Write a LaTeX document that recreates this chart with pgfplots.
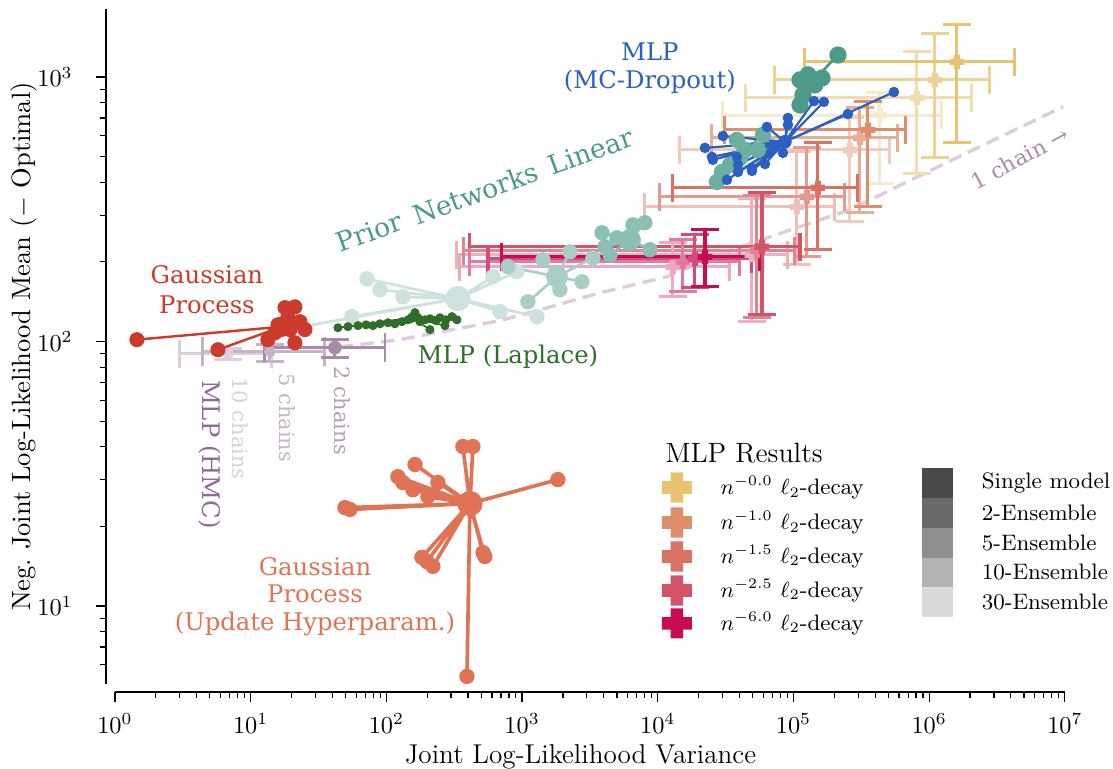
\documentclass[border=0pt]{standalone}
\usepackage{fontspec}
\usepackage{pgfplots}
\pgfplotsset{compat=1.18}
\newfontfamily\dvs{DejaVu Serif}

\definecolor{cgold}{HTML}{E6C36F}
\definecolor{csal}{HTML}{DF8E6B}
\definecolor{cred}{HTML}{DA7264}
\definecolor{cpink}{HTML}{D25466}
\definecolor{ccrim}{HTML}{C80D4F}
\definecolor{cgp}{HTML}{CC3A2C}
\definecolor{cgpu}{HTML}{E07355}
\definecolor{cgreen}{HTML}{2E6E2A}
\definecolor{cblue}{HTML}{2B5FC2}
\definecolor{ct1}{HTML}{CDE2DE}
\definecolor{ct2}{HTML}{A9CEC6}
\definecolor{ct3}{HTML}{8CBFB3}
\definecolor{ct4}{HTML}{6CAE9F}
\definecolor{ct5}{HTML}{4E9A88}
\definecolor{ch2}{HTML}{A98AA9}
\definecolor{ch5}{HTML}{C7B2C8}
\definecolor{ch10}{HTML}{DCCFDC}
\definecolor{chmc}{HTML}{8E6B92}
\definecolor{cdash}{HTML}{DDCCDB}
\definecolor{g1}{HTML}{494949}
\definecolor{g2}{HTML}{6A6A6A}
\definecolor{g3}{HTML}{8F8F8F}
\definecolor{g4}{HTML}{B3B3B3}
\definecolor{g5}{HTML}{DADADA}

\pgfdeclareplotmark{fatplus}{%
  \pgfpathrectangle{\pgfpoint{-\pgfplotmarksize}{-0.42\pgfplotmarksize}}{\pgfpoint{2\pgfplotmarksize}{0.84\pgfplotmarksize}}%
  \pgfpathrectangle{\pgfpoint{-0.42\pgfplotmarksize}{-\pgfplotmarksize}}{\pgfpoint{0.84\pgfplotmarksize}{2\pgfplotmarksize}}%
  \pgfusepathqfill}

\pgfplotsset{
  crs/.style={color=#1, mark=fatplus, mark size=3pt, mark options={fill=#1, draw=none},
    error bars/x dir=both, error bars/y dir=both,
    error bars/x explicit, error bars/y explicit,
    error bars/error bar style={line width=1.25pt, #1},
    error bars/error mark options={rotate=90, line width=1.25pt, mark size=5.8pt, #1}},
  hmc/.style={color=#1, mark=*, mark size=2.2pt, mark options={fill=#1, draw=none},
    error bars/x dir=both, error bars/y dir=both,
    error bars/x explicit, error bars/y explicit,
    error bars/error bar style={line width=1.2pt, #1},
    error bars/error mark options={rotate=90, line width=1.2pt, mark size=5.8pt, #1}},
  star/.style={color=#1, line width=0.9pt, mark=*, mark size=2.4pt, mark options={fill=#1, draw=none}},
  ctr/.style={color=#1, only marks, mark=*, mark options={fill=#1, draw=none}},
}

\begin{document}
\begin{tikzpicture}
\useasboundingbox (-47.3pt,-34.6pt) rectangle (410.7pt,281.5pt);
\begin{axis}[
  at={(0,0)}, anchor=south west,
  scale only axis, width=390.9pt, height=277.8pt,
  xmin=0, xmax=7, ymin=0.705, ymax=3.257,
  axis x line*=bottom, axis y line*=left,
  axis x line shift=3.3pt, axis y line shift=3.7pt,
  xtick={0,1,2,3,4,5,6,7},
  xticklabels={$10^{0}$,$10^{1}$,$10^{2}$,$10^{3}$,$10^{4}$,$10^{5}$,$10^{6}$,$10^{7}$},
  ytick={1,2,3}, yticklabels={$10^{1}$,$10^{2}$,$10^{3}$},
  minor xtick={0.301,0.477,0.602,0.699,0.778,0.845,0.903,0.954,
               1.301,1.477,1.602,1.699,1.778,1.845,1.903,1.954,
               2.301,2.477,2.602,2.699,2.778,2.845,2.903,2.954,
               3.301,3.477,3.602,3.699,3.778,3.845,3.903,3.954,
               4.301,4.477,4.602,4.699,4.778,4.845,4.903,4.954,
               5.301,5.477,5.602,5.699,5.778,5.845,5.903,5.954,
               6.301,6.477,6.602,6.699,6.778,6.845,6.903,6.954},
  minor ytick={0.778,0.845,0.903,0.954,
               1.301,1.477,1.602,1.699,1.778,1.845,1.903,1.954,
               2.301,2.477,2.602,2.699,2.778,2.845,2.903,2.954},
  tick align=outside, major tick length=4.2pt, minor tick length=2.4pt,
  tick style={black, line width=0.5pt},
  axis line style={black, line width=0.7pt},
  ticklabel style={font=\fontsize{9.6}{11}\selectfont},
  xticklabel shift=1pt, yticklabel shift=6pt,
  clip=false,
  xlabel={Joint Log-Likelihood Variance},
  ylabel={Neg.\ Joint Log-Likelihood Mean ($-$ Optimal)},
  every axis x label/.style={at={(axis description cs:0.49,-0.108)}, anchor=center, font=\fontsize{11.2}{13}\selectfont},
  every axis y label/.style={at={(axis description cs:-0.0957,0.5)}, anchor=center, rotate=90, font=\fontsize{10.9}{13}\selectfont},
]

% 1 chain dashed curve
\addplot[cdash, line width=1.4pt, dash pattern=on 5.5pt off 3pt] coordinates {
 (1.658,1.980) (2.100,2.007) (2.837,2.079) (3.132,2.120) (3.574,2.184) (4.068,2.245)
 (4.505,2.339) (5.048,2.434) (5.416,2.498) (5.910,2.622) (6.448,2.755) (6.986,2.887)};

% MLP results: error-bar crosses (paler = larger ensembles)
\addplot[crs=cgold!35!white] coordinates {(5.637,2.856) += (0.457,0.087) -= (1.157,0.257)};
\addplot[crs=cgold!55!white] coordinates {(5.910,2.921) += (0.405,0.174) -= (1.267,0.287)};
\addplot[crs=cgold!75!white] coordinates {(6.042,2.989) += (0.405,0.174) -= (1.179,0.295)};
\addplot[crs=cgold] coordinates {(6.204,3.057) += (0.427,0.140) -= (1.120,0.306)};

\addplot[crs=csal!45!white] coordinates {(5.416,2.724) += (0.295,0.121) -= (1.253,0.272)};
\addplot[crs=csal!72!white] coordinates {(5.490,2.770) += (0.273,0.113) -= (1.091,0.283)};
\addplot[crs=csal] coordinates {(5.549,2.800) += (0.273,0.106) -= (1.054,0.291)};

\addplot[crs=cred!45!white] coordinates {(5.025,2.509) += (0.280,0.208) -= (1.120,0.219)};
\addplot[crs=cred!72!white] coordinates {(5.099,2.547) += (0.280,0.185) -= (1.083,0.227)};
\addplot[crs=cred] coordinates {(5.180,2.581) += (0.295,0.170) -= (1.068,0.234)};

\addplot[crs=cpink!45!white] coordinates {(4.694,2.328) += (0.265,0.211) -= (2.174,0.253)};
\addplot[crs=cpink!72!white] coordinates {(4.731,2.343) += (0.280,0.208) -= (2.166,0.253)};
\addplot[crs=cpink] coordinates {(4.768,2.358) += (0.280,0.204) -= (2.152,0.257)};

\addplot[crs=ccrim!35!white] coordinates {(4.112,2.282) += (0.420,0.091) -= (1.570,0.113)};
\addplot[crs=ccrim!55!white] coordinates {(4.185,2.301) += (0.420,0.083) -= (1.570,0.113)};
\addplot[crs=ccrim!75!white] coordinates {(4.274,2.313) += (0.420,0.091) -= (1.525,0.110)};
\addplot[crs=ccrim] coordinates {(4.348,2.320) += (0.405,0.102) -= (1.496,0.113)};

% MLP (HMC)
\addplot[hmc=ch10] coordinates {(0.833,1.954) += (0.324,0.019) -= (0.354,0.023)};
\addplot[hmc=ch5] coordinates {(1.142,1.962) += (0.405,0.026) -= (0.494,0.038)};
\addplot[hmc=ch2, mark size=2.6pt] coordinates {(1.621,1.977) += (0.369,0.030) -= (0.516,0.038)};

% Prior Networks Linear
\addplot[star=ct1, line width=1.1pt, mark size=2.6pt] coordinates {
 (2.527,2.162) (1.378,2.056) (2.527,2.162) (1.746,2.094) (2.527,2.162) (1.857,2.237)
 (2.527,2.162) (1.953,2.196) (2.527,2.162) (2.122,2.169) (2.527,2.162) (2.785,2.245)
 (2.527,2.162) (2.962,2.264) (2.527,2.162) (3.110,2.094) (2.527,2.162) (2.837,2.113)};
\addplot[ctr=ct1, mark size=5pt] coordinates {(2.527,2.162)};
\addplot[star=ct2, line width=1.1pt, mark size=2.6pt] coordinates {
 (3.257,2.245) (3.154,2.309) (3.257,2.245) (3.353,2.339) (3.257,2.245) (3.522,2.316)
 (3.257,2.245) (3.441,2.226) (3.257,2.245) (3.279,2.196) (3.257,2.245) (3.043,2.150)
 (3.257,2.245) (2.896,2.283)};
\addplot[ctr=ct2, mark size=4.3pt] coordinates {(3.257,2.245)};
\addplot[star=ct3, line width=1.1pt, mark size=2.6pt] coordinates {
 (3.795,2.384) (3.589,2.411) (3.795,2.384) (3.611,2.358) (3.795,2.384) (3.699,2.392)
 (3.795,2.384) (3.817,2.441) (3.795,2.384) (3.905,2.449) (3.795,2.384) (3.942,2.347)
 (3.795,2.384) (3.648,2.328)};
\addplot[ctr=ct3, mark size=4.3pt] coordinates {(3.795,2.384)};
\addplot[star=ct4, line width=1.1pt, mark size=2.8pt] coordinates {
 (4.642,2.724) (4.436,2.603) (4.642,2.724) (4.473,2.641) (4.642,2.724) (4.532,2.668)
 (4.642,2.724) (4.606,2.694) (4.642,2.724) (4.775,2.781) (4.642,2.724) (4.738,2.724)
 (4.642,2.724) (4.583,2.762)};
\addplot[star=ct5, line width=1.1pt, mark size=3pt] coordinates {
 (5.136,2.981) (5.328,3.083) (5.136,2.981) (5.048,2.894) (5.136,2.981) (5.070,2.932)
 (5.136,2.981) (5.048,2.989) (5.136,2.981) (5.210,2.996) (5.136,2.981) (5.158,2.970)
 (5.136,2.981) (5.107,3.008)};
\addplot[ctr=ct5, mark size=3.8pt] coordinates {(5.136,2.981)};

% MLP (Laplace)
\addplot[star=cgreen, line width=0.7pt, mark size=1.5pt] coordinates {
 (2.188,2.090) (1.643,2.052) (2.188,2.090) (1.717,2.056) (2.188,2.090) (1.791,2.060)
 (2.188,2.090) (1.850,2.063) (2.188,2.090) (1.901,2.060) (2.188,2.090) (1.953,2.067)
 (2.188,2.090) (2.012,2.071) (2.188,2.090) (2.063,2.067) (2.188,2.090) (2.115,2.075)
 (2.188,2.090) (2.159,2.082) (2.188,2.090) (2.233,2.090) (2.188,2.090) (2.247,2.075)
 (2.188,2.090) (2.284,2.082) (2.188,2.090) (2.321,2.086) (2.188,2.090) (2.365,2.079)
 (2.188,2.090) (2.395,2.090) (2.188,2.090) (2.439,2.082) (2.188,2.090) (2.483,2.094)
 (2.188,2.090) (2.520,2.082) (2.188,2.090) (2.211,2.109) (2.188,2.090) (2.321,2.045)
 (2.188,2.090) (2.432,2.060)};

% Gaussian Process
\addplot[star=cgp, line width=1pt, mark size=2.6pt] coordinates {
 (1.231,2.056) (0.162,2.007) (1.231,2.056) (0.759,1.969) (1.231,2.056) (1.253,2.128)
 (1.231,2.056) (1.326,2.131) (1.231,2.056) (1.201,2.063) (1.231,2.056) (1.400,2.045)
 (1.231,2.056) (1.127,2.007) (1.231,2.056) (1.326,1.995) (1.231,2.056) (1.275,2.094)
 (1.231,2.056) (1.363,2.075) (1.231,2.056) (1.179,2.033) (1.231,2.056) (1.290,2.045)};
\addplot[ctr=cgp, mark size=4pt] coordinates {(1.231,2.056)};

% MLP (MC-Dropout)
\addplot[star=cblue, line width=0.9pt, mark size=1.7pt] coordinates {
 (4.937,2.755) (4.348,2.732) (4.937,2.755) (4.399,2.698) (4.937,2.755) (4.480,2.777)
 (4.937,2.755) (4.510,2.611) (4.937,2.755) (4.591,2.668) (4.937,2.755) (4.694,2.656)
 (4.937,2.755) (4.790,2.671) (4.937,2.755) (4.804,2.811) (4.937,2.755) (4.959,2.845)
 (4.937,2.755) (4.959,2.819) (4.937,2.755) (5.151,2.909) (4.937,2.755) (5.224,2.906)
 (4.937,2.755) (5.401,2.860) (4.937,2.755) (5.740,2.943) (4.937,2.755) (4.922,2.713)
 (4.937,2.755) (4.406,2.687) (4.937,2.755) (4.583,2.698) (4.937,2.755) (4.591,2.641)
 (4.937,2.755) (4.694,2.645)};
\addplot[ctr=cblue, mark size=2.6pt] coordinates {(4.937,2.755)};

% Gaussian Process (Update Hyperparam.)
\addplot[star=cgpu, line width=1.5pt, mark size=2.4pt] coordinates {
 (2.616,1.3875) (2.564,1.603) (2.616,1.3875) (2.638,1.603) (2.616,1.3875) (2.211,1.535)
 (2.616,1.3875) (2.085,1.489) (2.616,1.3875) (2.122,1.467) (2.616,1.3875) (2.196,1.440)
 (2.616,1.3875) (2.306,1.414) (2.616,1.3875) (2.380,1.467) (2.616,1.3875) (3.264,1.478)
 (2.616,1.3875) (1.695,1.372) (2.616,1.3875) (1.732,1.365) (2.616,1.3875) (2.262,1.184)
 (2.616,1.3875) (2.299,1.168) (2.616,1.3875) (2.343,1.150) (2.616,1.3875) (2.726,1.187)
 (2.616,1.3875) (2.712,1.202) (2.616,1.3875) (2.594,0.734)};
\addplot[ctr=cgpu, mark size=5pt] coordinates {(2.616,1.3875)};

% annotations
\node[align=center, text=cgp, font=\dvs\fontsize{10}{12.3}\selectfont] at (axis cs:0.678,2.196) {Gaussian\\Process};
\node[align=center, text=cgpu, font=\dvs\fontsize{10}{11.2}\selectfont] at (axis cs:1.474,1.036) {Gaussian\\Process\\(Update Hyperparam.)};
\node[text=cgreen, font=\dvs\fontsize{10}{12}\selectfont] at (axis cs:2.896,1.943) {MLP (Laplace)};
\node[align=center, text=cblue, font=\dvs\fontsize{10}{11.5}\selectfont] at (axis cs:3.942,3.034) {MLP\\(MC-Dropout)};
\node[rotate=20, text=ct5, font=\dvs\fontsize{11}{13}\selectfont] at (axis cs:2.726,2.573) {Prior\ \,Networks\ \,Linear};
\node[rotate=28, text=ch2, font=\dvs\fontsize{9}{11}\selectfont] at (axis cs:6.669,2.694) {1 chain →};
\node[rotate=-90, text=ch2!85!white, font=\dvs\fontsize{8.6}{10}\selectfont] at (axis cs:1.673,1.739) {2 chains};
\node[rotate=-90, text=ch5, font=\dvs\fontsize{8.6}{10}\selectfont] at (axis cs:1.267,1.712) {5 chains};
\node[rotate=-90, text=ch10, font=\dvs\fontsize{8.6}{10}\selectfont] at (axis cs:0.921,1.671) {10 chains};
\node[rotate=-90, text=chmc, font=\dvs\fontsize{10}{12}\selectfont] at (axis cs:0.700,1.573) {MLP (HMC)};

% legend
\node[anchor=west, font=\fontsize{11.5}{13}\selectfont] at (axis cs:3.994,1.580) {MLP Results};
\fill[cgold] (axis cs:4.141,1.4479) ++(-6.2pt,-2.6pt) rectangle ++(12.4pt,5.2pt) (axis cs:4.141,1.4479) ++(-2.6pt,-6.2pt) rectangle ++(5.2pt,12.4pt);
\fill[csal] (axis cs:4.141,1.3157) ++(-6.2pt,-2.6pt) rectangle ++(12.4pt,5.2pt) (axis cs:4.141,1.3157) ++(-2.6pt,-6.2pt) rectangle ++(5.2pt,12.4pt);
\fill[cred] (axis cs:4.141,1.1873) ++(-6.2pt,-2.6pt) rectangle ++(12.4pt,5.2pt) (axis cs:4.141,1.1873) ++(-2.6pt,-6.2pt) rectangle ++(5.2pt,12.4pt);
\fill[cpink] (axis cs:4.141,1.0589) ++(-6.2pt,-2.6pt) rectangle ++(12.4pt,5.2pt) (axis cs:4.141,1.0589) ++(-2.6pt,-6.2pt) rectangle ++(5.2pt,12.4pt);
\fill[ccrim] (axis cs:4.141,0.9343) ++(-6.2pt,-2.6pt) rectangle ++(12.4pt,5.2pt) (axis cs:4.141,0.9343) ++(-2.6pt,-6.2pt) rectangle ++(5.2pt,12.4pt);
\begin{scope}[every node/.style={anchor=west, font=\fontsize{9.2}{11}\selectfont}]
\node at (axis cs:4.400,1.4479) {$n^{-0.0}$ $\ell_2$-decay};
\node at (axis cs:4.400,1.3157) {$n^{-1.0}$ $\ell_2$-decay};
\node at (axis cs:4.400,1.1873) {$n^{-1.5}$ $\ell_2$-decay};
\node at (axis cs:4.400,1.0589) {$n^{-2.5}$ $\ell_2$-decay};
\node at (axis cs:4.400,0.9343) {$n^{-6.0}$ $\ell_2$-decay};
\node at (axis cs:6.325,1.4667) {Single model};
\node at (axis cs:6.325,1.3535) {2-Ensemble};
\node at (axis cs:6.325,1.2402) {5-Ensemble};
\node at (axis cs:6.325,1.1269) {10-Ensemble};
\node at (axis cs:6.325,1.0136) {30-Ensemble};
\end{scope}
\fill[g1] (axis cs:5.947,1.5234) rectangle (axis cs:6.175,1.4101);
\fill[g2] (axis cs:5.947,1.4101) rectangle (axis cs:6.175,1.2968);
\fill[g3] (axis cs:5.947,1.2968) rectangle (axis cs:6.175,1.1835);
\fill[g4] (axis cs:5.947,1.1835) rectangle (axis cs:6.175,1.0703);
\fill[g5] (axis cs:5.947,1.0703) rectangle (axis cs:6.175,0.9570);
\end{axis}
\end{tikzpicture}
\end{document}
